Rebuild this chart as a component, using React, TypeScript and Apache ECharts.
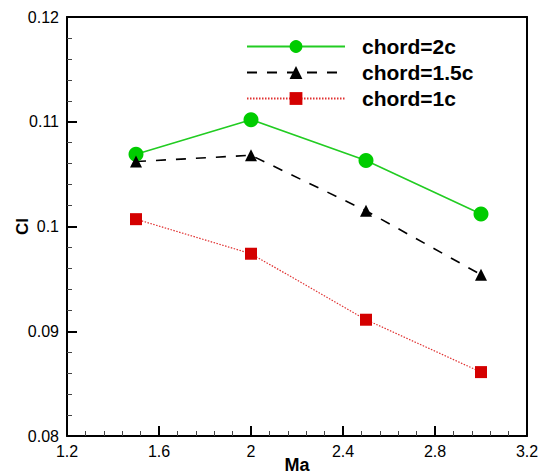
import React, { useEffect, useRef } from "react";
import * as echarts from "echarts";

const ma = [1.5, 2, 2.5, 3];
const chord2c = [0.1069, 0.1102, 0.1063, 0.1012];
const chord15c = [0.1062, 0.1068, 0.1015, 0.0954];
const chord1c = [0.1007, 0.0974, 0.0911, 0.0861];
const seriesNames = ["chord=2c", "chord=1.5c", "chord=1c"];

const xMin = 1.2;
const xMax = 3.2;
const xStep = 0.4;
const yMin = 0.08;
const yMax = 0.12;
const yStep = 0.01;

const font = "Arial, 'Liberation Sans', sans-serif";

export default function App() {
  const ref = useRef<HTMLDivElement>(null);
  useEffect(() => {
    const chart = echarts.init(ref.current!, null, { renderer: "svg" });
    const pts = (ys: number[]) => ma.map((x, i) => [x, ys[i]]);
    chart.setOption({
      animation: false,
      backgroundColor: "#fff",
      grid: {
        left: 67,
        right: 17,
        top: 17,
        bottom: 38,
        outerBoundsMode: "none",
        containLabel: false,
      },
      legend: {
        orient: "vertical",
        left: 241,
        top: 31,
        itemWidth: 98,
        itemHeight: 16,
        itemGap: 5,
        data: seriesNames,
        textStyle: {
          fontFamily: font,
          fontWeight: "bold",
          fontSize: 21,
          lineHeight: 20,
          color: "#000",
          padding: [0, 0, 0, 12],
        },
      },
      xAxis: [
        {
          type: "value",
          min: xMin,
          max: xMax,
          interval: xStep,
          name: "Ma",
          nameLocation: "middle",
          nameGap: 20,
          nameMoveOverlap: false,
          nameTextStyle: { fontFamily: font, fontWeight: "bold", fontSize: 18, color: "#000" },
          axisLine: { show: true, onZero: false, lineStyle: { color: "#000", width: 2 } },
          splitLine: { show: false },
          axisTick: { show: true, inside: true, length: 10, lineStyle: { color: "#000", width: 2 } },
          minorTick: { show: true, splitNumber: 5, length: 5, lineStyle: { color: "#444", width: 1 } },
          axisLabel: {
            show: true,
            fontFamily: font,
            fontSize: 16,
            color: "#000",
            margin: 7,
            formatter: (v: number) => String(parseFloat(v.toFixed(2))),
          },
        },
        {
          type: "value",
          position: "top",
          min: xMin,
          max: xMax,
          interval: xStep,
          axisLine: { show: true, onZero: false, lineStyle: { color: "#000", width: 2 } },
          splitLine: { show: false },
          axisTick: { show: false },
          axisLabel: { show: false },
        },
      ],
      yAxis: [
        {
          type: "value",
          min: yMin,
          max: yMax,
          interval: yStep,
          name: "Cl",
          nameLocation: "middle",
          nameGap: 36,
          nameMoveOverlap: false,
          nameRotate: 90,
          nameTextStyle: { fontFamily: font, fontWeight: "bold", fontSize: 17, color: "#000" },
          axisLine: { show: true, onZero: false, lineStyle: { color: "#000", width: 2 } },
          splitLine: { show: false },
          axisTick: { show: true, inside: true, length: 10, lineStyle: { color: "#000", width: 2 } },
          minorTick: { show: true, splitNumber: 5, length: 5, lineStyle: { color: "#444", width: 1 } },
          axisLabel: {
            show: true,
            fontFamily: font,
            fontSize: 16,
            color: "#000",
            margin: 8,
            formatter: (v: number) => String(parseFloat(v.toFixed(3))),
          },
        },
        {
          type: "value",
          position: "right",
          min: yMin,
          max: yMax,
          interval: yStep,
          axisLine: { show: true, onZero: false, lineStyle: { color: "#000", width: 2 } },
          splitLine: { show: false },
          axisTick: { show: false },
          axisLabel: { show: false },
        },
      ],
      series: [
        {
          name: seriesNames[0],
          type: "line",
          data: pts(chord2c),
          symbol: "circle",
          symbolSize: 15,
          z: 3,
          itemStyle: { color: "#00cc00" },
          lineStyle: { color: "#22cc22", width: 1.6, type: "solid" },
        },
        {
          name: seriesNames[1],
          type: "line",
          data: pts(chord15c),
          symbol: "triangle",
          symbolSize: 12,
          z: 3,
          itemStyle: { color: "#000" },
          lineStyle: { color: "#000", width: 1.6, type: [10, 10] },
        },
        {
          name: seriesNames[2],
          type: "line",
          data: pts(chord1c),
          symbol: "rect",
          symbolSize: 12,
          z: 3,
          itemStyle: { color: "#d40000" },
          lineStyle: { color: "#e03030", width: 1.2, type: [1.5, 1.5] },
        },
      ],
    });
    return () => chart.dispose();
  }, []);
  return <div ref={ref} style={{ width: 544, height: 474, position: "absolute", left: 0, top: 0 }} />;
}
